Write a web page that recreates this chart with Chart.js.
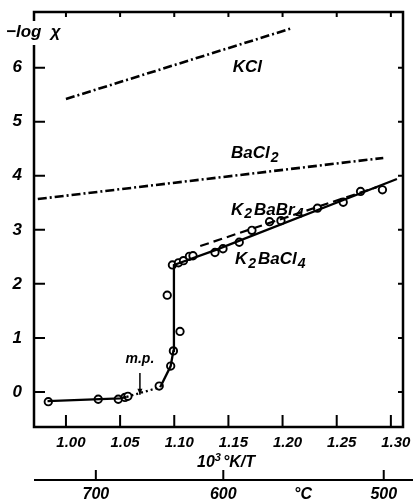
<!DOCTYPE html>
<html>
<head>
<meta charset="utf-8">
<script src="https://cdn.jsdelivr.net/npm/chart.js@4.4.0/dist/chart.umd.min.js"></script>
<style>
  body { margin: 0; background: #fff; }
  #wrap { width: 413px; height: 501px; }
</style>
</head>
<body>
<div id="wrap"><canvas id="c" width="413" height="501"></canvas></div>
<script>
// axis ticks
const xTicks = [1.00, 1.05, 1.10, 1.15, 1.20, 1.25, 1.30];
const yTicks = [0, 1, 2, 3, 4, 5, 6];
const celsiusTicks = [700, 600, 500];

// straight reference lines (10^3/T, -log chi)
const kclX = [1.000, 1.207];
const kclY = [5.42, 6.72];
const bacl2X = [0.974, 1.293];
const bacl2Y = [3.57, 4.33];
const babr4X = [1.124, 1.287];
const babr4Y = [2.70, 3.79];

// K2BaCl4 drawn curve, segment 2->3 is dotted
const clLineX = [0.983, 1.050, 1.056, 1.087, 1.0967, 1.0992, 1.0997, 1.1385, 1.3056];
const clLineY = [-0.17, -0.12, -0.09, 0.087, 0.48, 0.76, 2.35, 2.63, 3.94];

// K2BaCl4 measured points
const clPtX = [0.9837, 1.0298, 1.0483, 1.0545, 1.0572, 1.0861, 1.0967, 1.0992, 1.1053, 1.0935,
  1.0983, 1.1039, 1.1085, 1.1140, 1.1173, 1.1376, 1.1450, 1.1600, 1.1717, 1.1880, 1.1985,
  1.2322, 1.2560, 1.2720, 1.2922];
const clPtY = [-0.18, -0.135, -0.135, -0.10, -0.08, 0.11, 0.48, 0.76, 1.12, 1.79,
  2.35, 2.39, 2.43, 2.51, 2.52, 2.58, 2.65, 2.77, 2.99, 3.15, 3.17,
  3.40, 3.51, 3.71, 3.74];

const toXY = (xs, ys) => xs.map((x, i) => ({ x: x, y: ys[i] }));
const FONT = "'Liberation Sans', Arial, sans-serif";

function richText(ctx, parts, x, y, size) {
  // parts: strings, or [text] for subscript
  ctx.textBaseline = 'middle';
  ctx.textAlign = 'left';
  let cx = x;
  parts.forEach(p => {
    if (Array.isArray(p)) {
      ctx.font = 'bold italic ' + Math.round(size * 0.8) + 'px ' + FONT;
      ctx.fillText(p[0], cx + 1, y + size * 0.28);
      cx += ctx.measureText(p[0]).width + 3;
    } else {
      ctx.font = 'bold italic ' + size + 'px ' + FONT;
      ctx.fillText(p, cx, y);
      cx += ctx.measureText(p).width;
    }
  });
}

const framePlugin = {
  id: 'frame',
  afterDraw(chart) {
    const ctx = chart.ctx;
    const a = chart.chartArea;
    const xs = chart.scales.x, ys = chart.scales.y;
    ctx.save();
    ctx.strokeStyle = '#000';
    ctx.fillStyle = '#000';
    ctx.lineCap = 'butt';

    // frame
    ctx.lineWidth = 2.5;
    ctx.strokeRect(a.left, a.top, a.right - a.left, a.bottom - a.top);

    // inward ticks
    ctx.lineWidth = 2;
    xTicks.forEach(v => {
      const px = xs.getPixelForValue(v);
      ctx.beginPath();
      ctx.moveTo(px, a.bottom); ctx.lineTo(px, a.bottom - 12);
      ctx.moveTo(px, a.top); ctx.lineTo(px, a.top + 5);
      ctx.stroke();
    });
    yTicks.forEach(v => {
      const py = ys.getPixelForValue(v);
      ctx.beginPath();
      ctx.moveTo(a.left, py); ctx.lineTo(a.left + 11, py);
      ctx.moveTo(a.right, py); ctx.lineTo(a.right - 5, py);
      ctx.stroke();
    });

    // tick labels
    ctx.font = 'bold italic 15px ' + FONT;
    ctx.textBaseline = 'middle';
    ctx.textAlign = 'center';
    xTicks.forEach(v => {
      ctx.fillText(v.toFixed(2), xs.getPixelForValue(v) + 5, a.bottom + 16);
    });
    ctx.textAlign = 'right';
    ctx.font = 'bold italic 17px ' + FONT;
    yTicks.forEach(v => {
      ctx.fillText(String(v), a.left - 12, ys.getPixelForValue(v));
    });

    // y title over a gap in the left axis
    ctx.fillStyle = '#fff';
    ctx.fillRect(a.left - 3, a.top + 9, 8, 24);
    ctx.fillStyle = '#000';
    ctx.textAlign = 'left';
    ctx.font = 'bold italic 17px ' + FONT;
    ctx.fillText('\u2212log  \u03c7', 6, a.top + 20);

    // x title
    ctx.textAlign = 'left';
    ctx.font = 'bold italic 16px ' + FONT;
    const tx = 197, ty = a.bottom + 36;
    ctx.fillText('10', tx, ty);
    let w = ctx.measureText('10').width;
    ctx.font = 'bold italic 11px ' + FONT;
    ctx.fillText('3', tx + w, ty - 5);
    w += ctx.measureText('3').width + 2;
    ctx.font = 'bold italic 16px ' + FONT;
    ctx.fillText('\u00b0K/T', tx + w, ty);

    // secondary celsius axis
    const cy = a.bottom + 53;
    ctx.lineWidth = 2;
    ctx.beginPath();
    ctx.moveTo(a.left, cy); ctx.lineTo(chart.width, cy);
    ctx.stroke();
    ctx.textAlign = 'center';
    ctx.font = 'bold italic 16px ' + FONT;
    celsiusTicks.forEach(c => {
      const px = xs.getPixelForValue(1000 / (c + 273.15));
      ctx.beginPath();
      ctx.moveTo(px, cy); ctx.lineTo(px, cy - 10);
      ctx.stroke();
      ctx.fillText(String(c), px, cy + 15);
    });
    ctx.fillText('\u00b0C', 303, cy + 15);

    // curve labels
    const lab = (parts, xv, yv, size) =>
      richText(ctx, parts, xs.getPixelForValue(xv), ys.getPixelForValue(yv), size);
    lab(['KCl'], 1.1540, 6.01, 17);
    lab(['BaCl', ['2']], 1.1524, 4.42, 17);
    lab(['K', ['2'], 'BaBr', ['4']], 1.1524, 3.37, 17);
    lab(['K', ['2'], 'BaCl', ['4']], 1.1560, 2.46, 17);

    // melting point marker
    ctx.font = 'bold italic 14px ' + FONT;
    ctx.textAlign = 'center';
    ctx.fillText('m.p.', xs.getPixelForValue(1.0683), ys.getPixelForValue(0.60));
    const ax = xs.getPixelForValue(1.0683);
    const ay0 = ys.getPixelForValue(0.35), ay1 = ys.getPixelForValue(-0.05);
    ctx.lineWidth = 1.5;
    ctx.beginPath();
    ctx.moveTo(ax, ay0); ctx.lineTo(ax, ay1);
    ctx.stroke();
    ctx.beginPath();
    ctx.moveTo(ax - 2.5, ay1 - 6); ctx.lineTo(ax, ay1); ctx.lineTo(ax + 2.5, ay1 - 6);
    ctx.closePath();
    ctx.fill();
    ctx.restore();
  }
};

const lineDs = (data, dash, width) => ({
  data: data,
  showLine: true,
  borderColor: '#000',
  borderWidth: width,
  borderDash: dash,
  pointRadius: 0,
  fill: false,
  tension: 0
});

new Chart(document.getElementById('c'), {
  type: 'scatter',
  data: {
    datasets: [
      lineDs(toXY(kclX, kclY), [9, 3, 2, 3], 2.6),
      lineDs(toXY(bacl2X, bacl2Y), [9, 3, 2, 3], 2.6),
      lineDs(toXY(babr4X, babr4Y), [9, 5], 2.2),
      Object.assign(lineDs(toXY(clLineX, clLineY), [], 2.3), {
        segment: {
          borderDash: c => c.p0DataIndex === 2 ? [2, 3] : undefined
        }
      }),
      {
        data: toXY(clPtX, clPtY),
        showLine: false,
        pointStyle: 'circle',
        pointRadius: 3.7,
        pointBorderWidth: 1.9,
        pointBorderColor: '#000',
        pointBackgroundColor: '#fff'
      }
    ]
  },
  options: {
    responsive: false,
    animation: false,
    events: [],
    layout: { padding: { left: 34, top: 12, right: 10, bottom: 74 } },
    scales: {
      x: { type: 'linear', display: false, min: 0.9705, max: 1.3112 },
      y: { type: 'linear', display: false, min: -0.648, max: 7.03 }
    },
    plugins: {
      legend: { display: false },
      tooltip: { enabled: false }
    }
  },
  plugins: [framePlugin]
});
</script>
</body>
</html>
